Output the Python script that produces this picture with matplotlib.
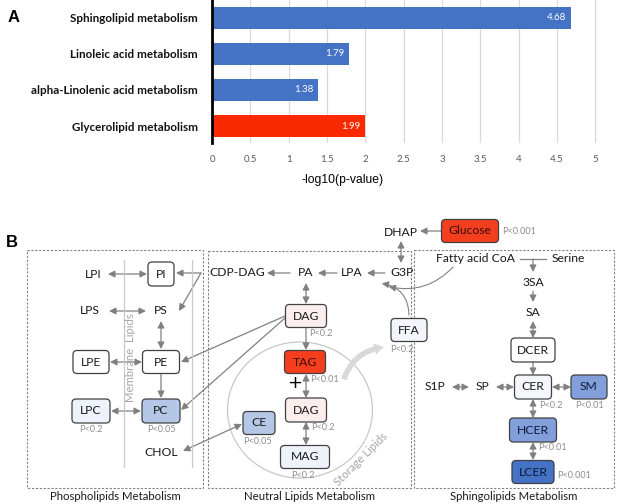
"""
Panel A: pathway enrichment bars (-log10 p).
Panel B: lipid metabolism pathway sketch.
"""

import matplotlib
matplotlib.use("Agg")
import matplotlib.pyplot as plt
from matplotlib.patches import FancyBboxPatch, Rectangle, Ellipse, FancyArrowPatch

# ---- panel A data
pathways = ["Sphingolipid metabolism", "Linoleic acid metabolism",
            "alpha-Linolenic acid metabolism", "Glycerolipid metabolism"]
neglogp = [4.68, 1.79, 1.38, 1.99]
bar_colors = ["#4472c4", "#4472c4", "#4472c4", "#fa2a00"]
xticks = [0, 0.5, 1, 1.5, 2, 2.5, 3, 3.5, 4, 4.5, 5]

# ---- panel B data: boxed metabolites, their p labels and fills
box_names = ["PI", "LPE", "PE", "LPC", "PC",
             "DAG", "TAG", "DAG", "MAG", "CE", "FFA", "Glucose",
             "DCER", "CER", "SM", "HCER", "LCER"]
box_pvals = ["", "", "", "P<0.2", "P<0.05",
             "P<0.2", "P<0.01", "P<0.2", "P<0.2", "P<0.05", "P<0.2", "P<0.001",
             "", "P<0.2", "P<0.01", "P<0.01", "P<0.001"]
box_fills = ["white", "white", "white", "#eef3fb", "#b4c7e7",
             "#fdeeee", "#f43f1f", "#fdeeee", "#eef3fb", "#b4c7e7", "#f2f5fb", "#f43f1f",
             "white", "#f4f6fb", "#829fdc", "#829fdc", "#4472c4"]
plain_names = ["LPI", "LPS", "PS", "CHOL", "CDP-DAG", "PA", "LPA", "G3P", "DHAP",
               "Fatty acid CoA", "Serine", "3SA", "SA", "S1P", "SP"]
section_titles = ["Phospholipids Metabolism", "Neutral Lipids Metabolism",
                  "Sphingolipids Metabolism"]

# ---- layout (pixel coordinates of the 617x504 canvas)
# box: centre x, centre y, width, height, p-label x, p-label y, p-label ha
box_layout = [
    (161, 274, 26, 24, 0, 0, "center"),
    (91, 362, 36, 23, 0, 0, "center"),
    (161, 362, 37, 23, 0, 0, "center"),
    (91, 411, 38, 24, 91, 430, "center"),
    (161, 411, 38, 24, 161, 430, "center"),
    (306, 316, 41, 23, 309, 334, "left"),
    (305, 362, 41, 23, 310, 380, "left"),
    (306, 410, 41, 24, 311, 428, "left"),
    (305, 457, 49, 23, 303, 475, "center"),
    (259, 423, 32, 23, 258, 442, "center"),
    (409, 330, 36, 23, 390, 349, "left"),
    (470, 231, 57, 23, 502, 231, "left"),
    (533, 350, 44, 24, 0, 0, "center"),
    (533, 387, 37, 24, 539, 405, "left"),
    (589, 387, 36, 24, 589, 405, "center"),
    (533, 430, 47, 24, 538, 447, "left"),
    (533, 472, 42, 23, 557, 475, "left"),
]
plain_layout = [(93, 274), (90, 311), (161, 311), (161, 452), (237, 273), (306, 273),
                (352, 273), (402, 273), (401, 232), (476, 259), (568, 259),
                (533, 283), (533, 312), (435, 387), (482, 387)]
# arrows: start, end, style
arrows = [
    ((108, 274), (147, 274), "<|-|>"), ((201, 273), (176, 273), "-|>"),
    ((201, 273), (179, 311), "-|>"), ((109, 311), (146, 311), "<|-|>"),
    ((161, 321), (161, 349), "<|-|>"), ((110, 362), (142, 362), "<|-|>"),
    ((161, 374), (161, 398), "-|>"), ((111, 411), (141, 411), "<|-|>"),
    ((285, 316), (181, 362), "-|>"), ((285, 318), (181, 410), "-|>"),
    ((183, 451), (242, 424), "<|-|>"),
    ((290, 273), (267, 273), "-|>"), ((337, 273), (318, 273), "-|>"),
    ((385, 273), (367, 273), "-|>"), ((401, 241), (401, 263), "<|-|>"),
    ((441, 231), (420, 231), "-|>"), ((306, 283), (306, 304), "<|-|>"),
    ((306, 328), (306, 350), "-|>"), ((306, 374), (306, 398), "<|-|>"),
    ((306, 422), (306, 445), "<|-|>"),
    ((533, 259), (533, 272), "-|>"), ((533, 291), (533, 302), "-|>"),
    ((533, 321), (533, 338), "<|-|>"), ((533, 362), (533, 375), "-|>"),
    ((452, 387), (469, 387), "<|-|>"), ((496, 387), (514, 387), "<|-|>"),
    ((552, 387), (571, 387), "<|-|>"), ((533, 399), (533, 418), "<|-|>"),
    ((533, 442), (533, 460), "<|-|>"),
]

gray = "#808080"
fig = plt.figure(figsize=(6.17, 5.04), dpi=100)

# ---------------- panel B (full canvas axes)
axb = fig.add_axes([0, 0, 1, 1])
axb.set_xlim(0, 617)
axb.set_ylim(504, 0)
axb.axis("off")

node_font = dict(family=["Lato", "DejaVu Sans"], fontsize=8.7, color="#1a1a1a")
p_font = dict(family=["Lato", "DejaVu Sans"], fontsize=6.6, color="#8c8c8c")

# dashed section frames
for (x0, y0, x1, y1), title in zip([(27, 250, 203, 488), (208, 251, 411, 488),
                                    (414, 250, 614, 488)], section_titles):
    axb.add_patch(Rectangle((x0, y0), x1 - x0, y1 - y0, fill=False, ec=gray,
                            lw=0.8, ls=(0, (2, 1.5))))
    axb.text((x0 + x1) / 2, 497, title, ha="center", va="center",
             family=["Lato", "DejaVu Sans"], fontsize=8.2, color="#1a1a1a")

# membrane lipid guide lines
for x in (124, 192):
    axb.plot([x, x], [260, 467], color="#c8c8c8", lw=0.9)
axb.text(131, 358, "Membrane  Lipids", rotation=90, ha="center", va="center",
         family=["Lato", "DejaVu Sans"], fontsize=8.2, color="#a6a6a6")

# storage lipid circle
axb.add_patch(Ellipse((300, 410), 145, 136, fill=False, ec="#c8c8c8", lw=0.9))
axb.text(361, 459, "Storage Lipids", rotation=45, ha="center", va="center",
         family=["Lato", "DejaVu Sans"], fontsize=8.2, color="#a6a6a6")

# big export arrow towards FFA
axb.add_patch(FancyArrowPatch((343, 382), (387, 347),
                              connectionstyle="arc3,rad=-0.35",
                              arrowstyle="simple,head_width=8,head_length=7,tail_width=4",
                              color="#d9d9d9", lw=0, mutation_scale=1))

# curved feeds into G3P
axb.add_patch(FancyArrowPatch((409, 318), (379, 283), connectionstyle="arc3,rad=0.45",
                              arrowstyle="-|>,head_length=4,head_width=2",
                              color=gray, lw=0.8, mutation_scale=1))
axb.add_patch(FancyArrowPatch((455, 265), (386, 286), connectionstyle="arc3,rad=-0.3",
                              arrowstyle="-|>,head_length=4,head_width=2",
                              color=gray, lw=0.8, mutation_scale=1))

# serine + fatty acid CoA junction
axb.plot([520, 546], [259, 259], color=gray, lw=0.9)

for (p0, p1, style) in arrows:
    axb.add_patch(FancyArrowPatch(p0, p1, arrowstyle=style + ",head_length=4,head_width=2",
                                  color=gray, lw=0.9, mutation_scale=1,
                                  shrinkA=0, shrinkB=0))

for name, pv, fc, (cx, cy, w, h, px, py, ha) in zip(box_names, box_pvals,
                                                   box_fills, box_layout):
    axb.add_patch(FancyBboxPatch((cx - w / 2, cy - h / 2), w, h,
                                 boxstyle="round,pad=0,rounding_size=4",
                                 fc=fc, ec="#404040", lw=0.9, zorder=3))
    tc = "#3a0c06" if fc == "#f43f1f" else ("#0d1a33" if fc in ("#829fdc", "#4472c4") else "#1a1a1a")
    axb.text(cx, cy, name, ha="center", va="center", zorder=4, **dict(node_font, color=tc))
    if pv:
        axb.text(px, py, pv, ha=ha, va="center", zorder=4, **p_font)

for name, (x, y) in zip(plain_names, plain_layout):
    axb.text(x, y, name, ha="center", va="center", **node_font)

axb.text(295, 383, "+", ha="center", va="center", fontsize=13, color="black",
         family="DejaVu Sans")

fig.text(8 / 617, 1 - 17 / 504, "A", ha="left", va="center", fontsize=12,
         weight="bold", family="Liberation Sans")
fig.text(6 / 617, 1 - 242 / 504, "B", ha="left", va="center", fontsize=12,
         weight="bold", family="Liberation Sans")

# ---------------- panel A
ax = fig.add_axes([212 / 617, 1 - 143 / 504, 385 / 617, 143 / 504])
ax.patch.set_alpha(0)
ypos = list(range(len(pathways)))
ax.barh(ypos, neglogp, height=0.6, color=bar_colors, zorder=2)
for y, v in zip(ypos, neglogp):
    ax.text(v - 0.06, y, f"{v:.2f}", ha="right", va="center", color="white",
            fontsize=7, family=["Lato", "DejaVu Sans"], zorder=3)
ax.set_ylim(3.47, -0.49)
ax.set_xlim(0, 5.02)
ax.set_xticks(xticks)
ax.set_xticklabels([f"{t:g}" for t in xticks], fontsize=7, color="#595959",
                   family=["Lato", "DejaVu Sans"])
ax.set_yticks(ypos)
ax.set_yticklabels(pathways, fontsize=8.4, weight="bold",
                   family=["Lato", "DejaVu Sans"], color="#111111")
ax.tick_params(axis="both", length=0)
ax.tick_params(axis="y", pad=10)
ax.tick_params(axis="x", pad=9)
ax.grid(axis="x", color="#d9d9d9", lw=0.9, zorder=0)
for s in ("top", "right", "bottom"):
    ax.spines[s].set_visible(False)
ax.spines["left"].set_linewidth(2)
ax.spines["left"].set_zorder(4)
ax.set_xlabel("-log10(p-value)", fontsize=8.7, family="Liberation Sans", labelpad=7)
ax.xaxis.label.set_x(131 / 385)

plt.savefig("out.png", dpi=100)
